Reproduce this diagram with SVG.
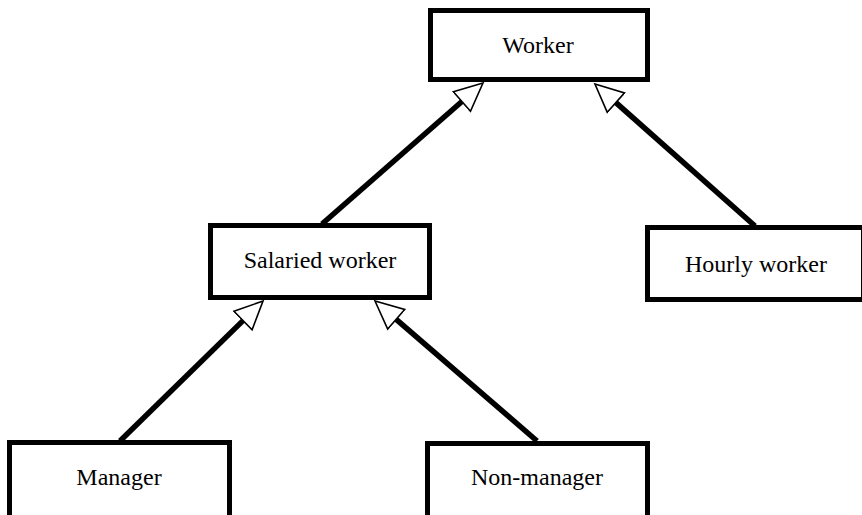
<svg xmlns="http://www.w3.org/2000/svg" width="862" height="515" viewBox="0 0 862 515">
<style>
.box{fill:#fff;stroke:#000;stroke-width:5}
.lbl{font-family:"Liberation Serif","Times New Roman",serif;font-size:24px;fill:#000;text-anchor:middle}
.conn{stroke:#000;stroke-width:5.5;fill:none}
</style>
<defs>
<marker id="tri" markerUnits="userSpaceOnUse" markerWidth="40" markerHeight="40" refX="1" refY="15" orient="auto" viewBox="0 0 40 30">
<path d="M1,2 L29,15 L1,28 Z" fill="#fff" stroke="#000" stroke-width="1.6" stroke-linejoin="miter"/>
</marker>
</defs>
<rect width="862" height="515" fill="#fff"/>
<g id="connectors">
<line class="conn" x1="322" y1="224" x2="461.9" y2="101.5" marker-end="url(#tri)"/>
<line class="conn" x1="755" y1="226" x2="615.9" y2="102.6" marker-end="url(#tri)"/>
<line class="conn" x1="120" y1="441" x2="243" y2="320.6" marker-end="url(#tri)"/>
<line class="conn" x1="537" y1="441" x2="396.2" y2="319.3" marker-end="url(#tri)"/>
</g>
<g id="worker">
<rect class="box" x="430.5" y="10.5" width="217" height="69"/>
<text class="lbl" x="538" y="53">Worker</text>
</g>
<g id="salaried">
<rect class="box" x="210.5" y="225.5" width="219" height="72"/>
<text class="lbl" x="320" y="268">Salaried worker</text>
</g>
<g id="hourly">
<rect class="box" x="647.5" y="227.5" width="216" height="72"/>
<text class="lbl" x="756" y="272">Hourly worker</text>
</g>
<g id="manager">
<rect class="box" x="9.5" y="442.5" width="220" height="80"/>
<text class="lbl" x="119" y="485">Manager</text>
</g>
<g id="nonmanager">
<rect class="box" x="427.5" y="443.5" width="220" height="80"/>
<text class="lbl" x="537" y="485">Non-manager</text>
</g>
</svg>
